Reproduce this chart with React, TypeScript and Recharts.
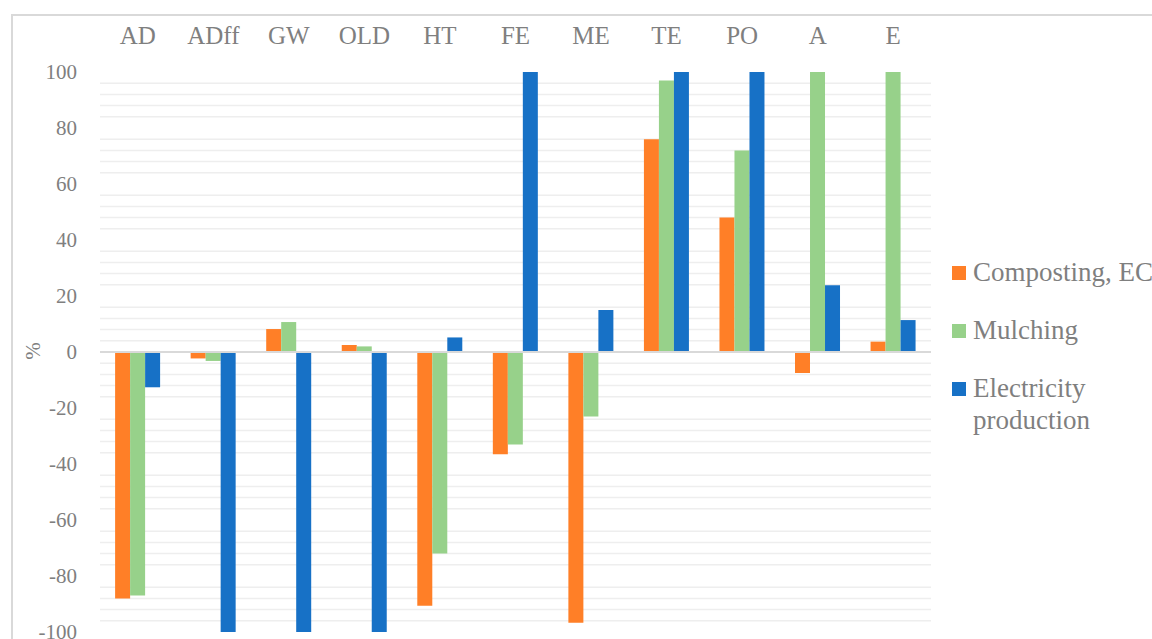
import React from "react";
import {
  BarChart,
  Bar,
  XAxis,
  YAxis,
  CartesianGrid,
  ReferenceLine,
} from "recharts";

// values
const categories = ["AD", "ADff", "GW", "OLD", "HT", "FE", "ME", "TE", "PO", "A", "E"];
const composting = [-88, -2.3, 8.2, 2.5, -90.6, -36.5, -96.7, 76, 48, -7.5, 3.7];
const mulching = [-87, -3.2, 10.7, 2, -72, -33, -23, 97, 72, 100, 100];
const electricity = [-12.6, -100, -100, -100, 5.2, 100, 15, 100, 100, 23.8, 11.4];

const yTicks = [-100, -80, -60, -40, -20, 0, 20, 40, 60, 80, 100];
// minor gridlines (every 4, the major ones are not drawn)
const gridValues = [
  -96, -92, -88, -84, -76, -72, -68, -64, -56, -52, -48, -44, -36, -32, -28, -24, -16, -12, -8, -4,
  4, 8, 12, 16, 24, 28, 32, 36, 44, 48, 52, 56, 64, 68, 72, 76, 84, 88, 92, 96,
];

const seriesNames = ["Composting, EC", "Mulching", "Electricity production"];
const colors = ["#FF7F27", "#97D18A", "#1771C6"];
const keys = ["composting", "mulching", "electricity"];

const data = categories.map((name, i) => ({
  name,
  composting: composting[i],
  mulching: mulching[i],
  electricity: electricity[i],
}));

const textColor = "#7f7f7f";
const font = "'Liberation Serif', 'Times New Roman', serif";

// rotated "%" axis title
const PercentLabel = (props: any) => {
  const vb = props.viewBox || {};
  const cx = 33;
  const cy = vb.y + vb.height / 2 - 1;
  return (
    <text
      x={cx}
      y={cy}
      transform={`rotate(-90 ${cx} ${cy})`}
      textAnchor="middle"
      dominantBaseline="central"
      fill={textColor}
      fontSize={21}
      fontFamily={font}
    >
      %
    </text>
  );
};

const legendTops = [256, 314, 372];

export default function App() {
  return (
    <div
      style={{
        position: "fixed",
        left: 0,
        top: 0,
        width: 1152,
        height: 639,
        overflow: "hidden",
        background: "#fff",
        fontFamily: font,
      }}
    >
      <div
        style={{
          position: "absolute",
          left: 11,
          top: 14,
          width: 1300,
          height: 800,
          border: "2px solid #d9d9d9",
        }}
      />
      <div style={{ position: "absolute", left: 0, top: 0 }}>
        <BarChart
          width={1152}
          height={639}
          data={data}
          margin={{ top: 32, right: 221, bottom: 7, left: 40 }}
          barCategoryGap="20%"
          barGap={0}
        >
          <CartesianGrid
            vertical={false}
            horizontalValues={gridValues}
            stroke="#eeeeee"
            strokeWidth={1.5}
          />
          <XAxis
            dataKey="name"
            orientation="top"
            axisLine={false}
            tickLine={false}
            tickSize={0}
            tickMargin={28}
            height={40}
            interval={0}
            tick={{ fill: textColor, fontSize: 25, fontFamily: font }}
          />
          <YAxis
            domain={[-100, 100]}
            ticks={yTicks}
            axisLine={false}
            tickLine={false}
            tickSize={0}
            tickMargin={23}
            width={60}
            interval={0}
            tick={{ fill: textColor, fontSize: 21, fontFamily: font }}
            label={<PercentLabel />}
          />
          {keys.map((k, i) => (
            <Bar key={k} dataKey={k} name={seriesNames[i]} fill={colors[i]} isAnimationActive={false} />
          ))}
          <ReferenceLine y={0} stroke="#d9d9d9" strokeWidth={2} />
        </BarChart>
      </div>
      {seriesNames.map((n, i) => (
        <React.Fragment key={n}>
          <div
            style={{
              position: "absolute",
              left: 952,
              top: legendTops[i] + 10,
              width: 14,
              height: 14,
              background: colors[i],
            }}
          />
          <div
            style={{
              position: "absolute",
              left: 973,
              top: legendTops[i],
              width: 195,
              fontSize: 27,
              lineHeight: "32px",
              color: textColor,
            }}
          >
            {n}
          </div>
        </React.Fragment>
      ))}
    </div>
  );
}
